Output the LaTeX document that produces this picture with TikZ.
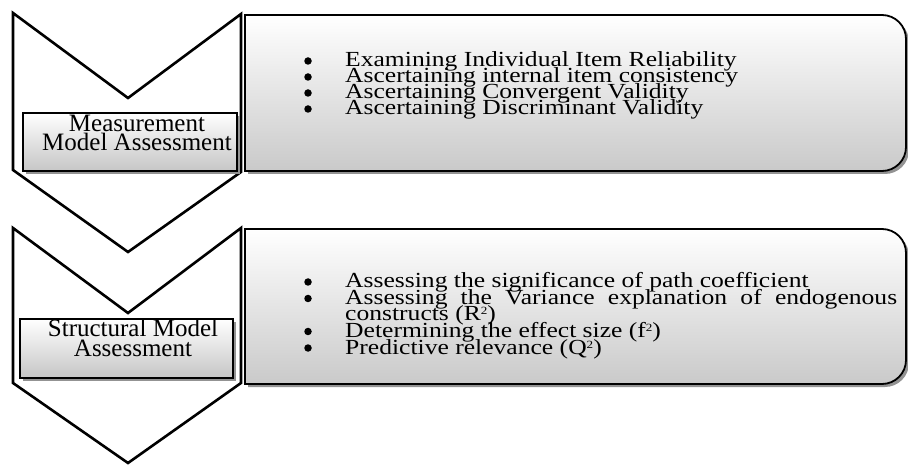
\documentclass[tikz,border=0pt]{standalone}
\usepackage{fontspec}
\setmainfont{Liberation Serif}
\newfontfamily\tnr{Liberation Serif}
\newfontfamily\tnrw[FakeStretch=1.19]{Liberation Serif}
\newcommand{\supnum}[1]{\raisebox{6pt}{\fontsize{11}{11}\selectfont #1}}
\usetikzlibrary{shadows}
\tikzset{
  chev/.style={draw=black, line width=2.6pt, fill=white, line join=miter},
  panel/.style={draw=black, line width=1.8pt, top color=white, bottom color=gray!42,
    drop shadow={shadow xshift=3pt, shadow yshift=-3pt, fill=gray!85, opacity=1}},
  lblbox/.style={draw=black, line width=1.6pt, top color=white, bottom color=gray!45,
    drop shadow={shadow xshift=3pt, shadow yshift=-3pt, fill=gray!85, opacity=1}},
  item/.style={anchor=base west, inner sep=0pt, font=\tnrw\fontsize{21.5}{16}\selectfont},
  lbltext/.style={anchor=base, inner sep=0pt, font=\tnr\fontsize{25}{20}\selectfont},
  dot/.style={fill=black, circle, inner sep=0pt, minimum size=7.5pt}
}
\begin{document}
\begin{tikzpicture}[x=1pt,y=1pt]
\useasboundingbox (0,0) rectangle (908,464);
% chevrons
\path[chev] (13,451) -- (128,366) -- (241,450) -- (241,292) -- (128,212) -- (13,294) -- cycle;
\path[chev] (13,236) -- (128,151) -- (241,236) -- (241,81) -- (128,1) -- (13,81) -- cycle;
% panels
\path[panel] (245,449) -- (882,449) arc[start angle=90, end angle=0, radius=24]
  -- (906,317) arc[start angle=0, end angle=-90, radius=24] -- (245,293) -- cycle;
\path[panel] (245,235) -- (882,235) arc[start angle=90, end angle=0, radius=24]
  -- (906,104) arc[start angle=0, end angle=-90, radius=24] -- (245,80) -- cycle;
% label boxes
\path[lblbox] (23,351) rectangle (237,293);
\path[lblbox] (20,145) rectangle (233,86);
% label texts
\node[lbltext] (m1) at (137,332.5) {Measurement};
\node[lbltext] (m2) at (137,313) {Model Assessment};
\node[lbltext] (s1) at (133,127.5) {Structural Model};
\node[lbltext] (s2) at (133,108) {Assessment};
% list 1
\node[dot] (b11) at (308,403) {};
\node[dot] (b12) at (308,387) {};
\node[dot] (b13) at (308,371) {};
\node[dot] (b14) at (308,355) {};
\node[item] (t11) at (345,397) {Examining Individual Item Reliability};
\node[item] (t12) at (345,381) {Ascertaining internal item consistency};
\node[item] (t13) at (345,365) {Ascertaining Convergent Validity};
\node[item] (t14) at (345,349) {Ascertaining Discriminant Validity};
% list 2
\node[dot] (b21) at (308,182) {};
\node[dot] (b22) at (308,165.5) {};
\node[dot] (b24) at (308,132.5) {};
\node[dot] (b25) at (308,116) {};
\node[item] (t21) at (345,176) {Assessing the significance of path coefficient};
\node[item] (t22) at (345,159.5) {\makebox[552pt][s]{Assessing the Variance explanation of endogenous}};
\node[item] (t23) at (345,143) {constructs (R\supnum{2})};
\node[item] (t24) at (345,126.5) {Determining the effect size (f\supnum{2})};
\node[item] (t25) at (345,110) {Predictive relevance (Q\supnum{2})};
\end{tikzpicture}
\end{document}
